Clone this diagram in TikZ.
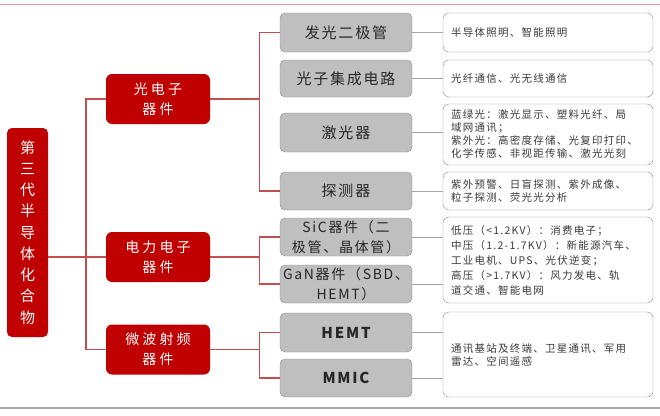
\documentclass[tikz,border=0pt]{standalone}
\usepackage{fontspec}
\setmainfont{Noto Sans CJK SC}
\newfontfamily\cjk[LetterSpace=12]{Noto Sans CJK SC}
\newfontfamily\cjkwide[LetterSpace=22]{Noto Sans CJK SC}
\usetikzlibrary{positioning}
\definecolor{hdred}{HTML}{C00000}
\definecolor{lnred}{HTML}{C0504D}
\definecolor{leafgray}{HTML}{BFBFBF}
\definecolor{edgegray}{HTML}{8C8C8C}
\definecolor{txtgray}{HTML}{3A3A3A}

\begin{document}
\begin{tikzpicture}[
  x=1pt, y=-1pt,
  root/.style  = {fill=hdred, rounded corners=5pt, text=white, align=center,
                  minimum width=41pt, minimum height=209pt, inner sep=0pt,
                  font=\cjk\fontsize{15}{21.25}\selectfont},
  cat/.style   = {fill=hdred, rounded corners=6pt, text=white, align=center,
                  minimum width=104pt, minimum height=50pt, inner sep=0pt,
                  font=\cjkwide\fontsize{14}{20}\selectfont},
  leaf/.style  = {fill=leafgray, draw=edgegray, rounded corners=5pt, align=center,
                  minimum width=132pt, minimum height=39pt, inner sep=0pt,
                  text=black!85, font=\cjk\fontsize{15}{21}\selectfont},
  twoline/.style = {leaf, minimum height=38pt, font=\cjk\fontsize{14}{20}\selectfont},
  desc/.style  = {draw=edgegray, fill=white, rounded corners=6pt, align=left,
                  text width=194pt, inner xsep=8pt, inner ysep=0pt,
                  text=txtgray, font=\cjk\fontsize{10.5}{13}\selectfont},
  trunk/.style = {draw=lnred, line width=1.2pt},
  link/.style  = {draw=edgegray!80, line width=0.8pt},
]
\useasboundingbox (0,0) rectangle (660,415);

% ---- frame rules -----------------------------------------------------------
\draw[lnred!60, line width=1pt] (0,4) -- (660,4);
\draw[gray!70, line width=1.2pt] (0,408) -- (660,408);

% ---- root and categories ---------------------------------------------------
\node[root] (root) at (27.5,232.5) {第\\三\\代\\半\\导\\体\\化\\合\\物};

\node[cat] (opto)  at (158,99)    {光电子\\器件};
\node[cat] (elec)  at (158,257)   {电力电子\\器件};
\node[cat] (micro) at (158,349.5) {微波射频\\器件};

\coordinate (bus) at (86,0);
\draw[trunk] (root.east |- elec) -- (elec.west);
\draw[trunk] (opto.west) -- (opto.west -| bus) -- (micro.west -| bus) -- (micro.west);

% ---- devices ---------------------------------------------------------------
\node[leaf] (led)  at (346,32.5)  {发光二极管};
\node[leaf, minimum height=37pt] (pic) at (346,78.5) {光子集成电路};
\node[leaf] (laser) at (346,132.5) {激光器};
\node[leaf, minimum height=38pt] (det) at (346,191) {探测器};
\node[twoline] (sic) at (346,237) {SiC器件（二\\极管、晶体管）};
\node[twoline] (gan) at (346,284) {GaN器件（SBD、\\HEMT）};
\node[leaf] (hemt) at (346,332.5) {\bfseries HEMT};
\node[leaf, minimum height=38pt] (mmic) at (346,378) {\bfseries MMIC};

\draw[trunk] (opto.east) -- ++(50,0);
\draw[trunk] (led.west) -- ++(-20,0) |- (det.west);
\draw[trunk] (elec.east) -- ++(50,0);
\draw[trunk] (sic.west) -- ++(-20,0) |- (gan.west);
\draw[trunk] (micro.east) -- ++(50,0);
\draw[trunk] (hemt.west) -- ++(-20,0) |- (mmic.west);

% ---- applications ----------------------------------------------------------
\node[desc, minimum height=39pt] (d1) at (548,32.5) {半导体照明、智能照明};
\node[desc, minimum height=37pt] (d2) at (548,78.5) {光纤通信、光无线通信};
\node[desc, minimum height=61pt] (d3) at (548,134.5)
  {蓝绿光：激光显示、塑料光纤、局\\域网通讯；\\紫外光：高密度存储、光复印打印、\\化学传感、非视距传输、激光光刻};
\node[desc, minimum height=38pt] (d4) at (548,191)
  {紫外预警、日盲探测、紫外成像、\\粒子探测、荧光光分析};
\node[desc, minimum height=86pt, font=\cjk\fontsize{10.5}{15}\selectfont] (d5) at (548,260)
  {低压（<1.2KV）：消费电子；\\中压（1.2-1.7KV）：新能源汽车、\\工业电机、UPS、光伏逆变；\\高压（>1.7KV）：风力发电、轨\\道交通、智能电网};
\node[desc, minimum height=85pt] (d6) at (548,354.5)
  {通讯基站及终端、卫星通讯、军用\\雷达、空间遥感};

\draw[link] (led.east) -- (d1.west);
\draw[link] (pic.east) -- (d2.west);
\draw[link] (laser.east) -- (laser.east -| d3.west);
\draw[link] (det.east) -- (d4.west);
\draw[link] (sic.east) -- (sic.east -| d5.west);
\draw[link] (gan.east) -- (gan.east -| d5.west);
\draw[link] (hemt.east) -- (hemt.east -| d6.west);
\draw[link] (mmic.east) -- (mmic.east -| d6.west);

\end{tikzpicture}
\end{document}
